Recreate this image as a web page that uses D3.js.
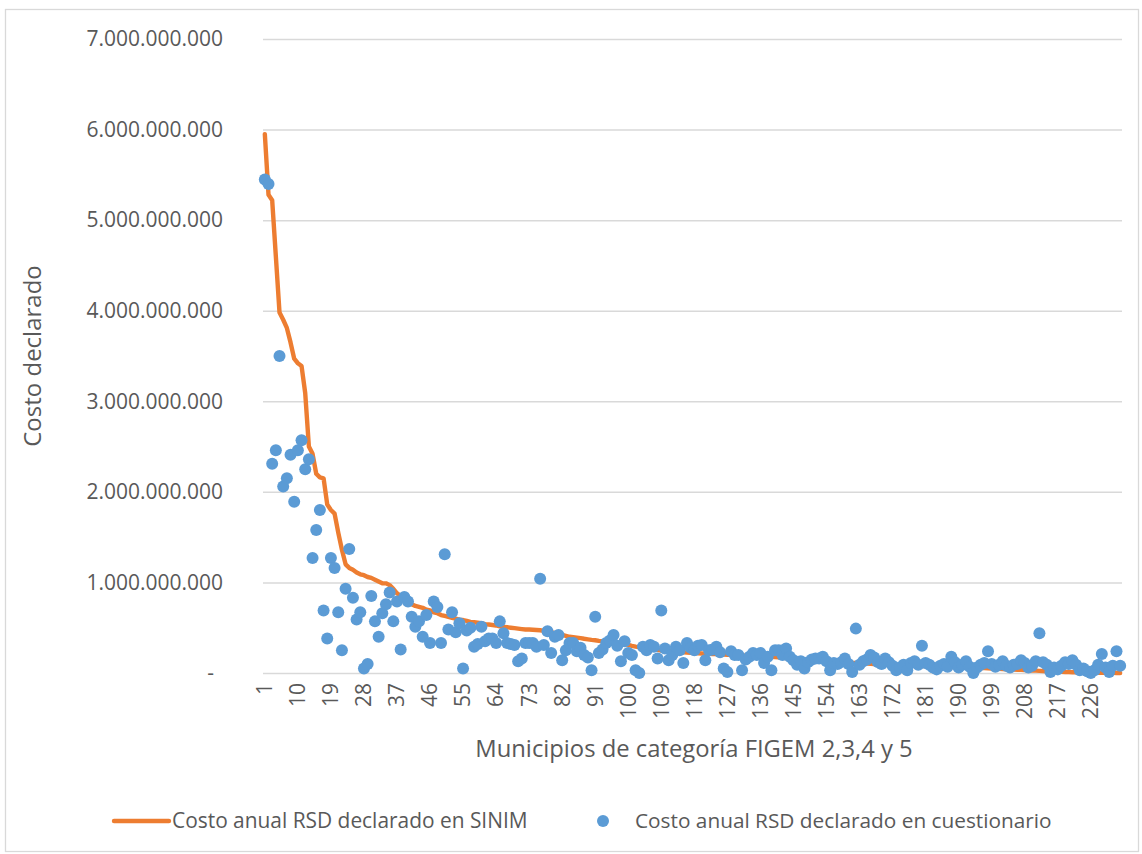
<!DOCTYPE html>
<html>
<head>
<meta charset="utf-8">
<script src="https://cdn.jsdelivr.net/npm/d3@7"></script>
<style>
  body { margin: 0; background: #fff; }
  svg text { font-family: "Open Sans", "Liberation Sans", sans-serif; fill: #595959; }
</style>
</head>
<body>
<script>
// SINIM annual cost per municipality (millions of pesos), sorted
var sinim = [
  5950, 5280, 5220, 4600, 3980, 3900, 3810, 3650, 3470, 3420,
  3390, 3090, 2500, 2420, 2200, 2160, 2150, 1860, 1800, 1760,
  1550, 1360, 1200, 1160, 1140, 1110, 1090, 1080, 1060, 1050,
  1030, 1010, 990, 990, 970, 930, 880, 850, 810, 780,
  760, 740, 730, 720, 700, 690, 670, 660, 640, 630,
  620, 610, 600, 590, 585, 575, 565, 560, 555, 550,
  540, 535, 530, 525, 515, 510, 505, 500, 495, 490,
  485, 480, 480, 478, 475, 472, 465, 458, 450, 440,
  430, 420, 410, 400, 395, 390, 385, 378, 372, 366,
  362, 355, 350, 345, 340, 335, 330, 325, 318, 310,
  300, 292, 285, 278, 272, 268, 262, 255, 248, 244,
  240, 236, 233, 230, 228, 225, 222, 220, 218, 216,
  214, 212, 210, 208, 206, 204, 202, 200, 198, 196,
  194, 192, 190, 188, 186, 184, 182, 180, 178, 175,
  172, 168, 165, 162, 158, 155, 152, 148, 145, 142,
  140, 137, 134, 130, 127, 124, 121, 118, 116, 114,
  112, 110, 108, 106, 104, 102, 100, 98, 96, 94,
  92, 90, 88, 86, 85, 84, 82, 80, 79, 78,
  77, 76, 75, 74, 73, 72, 71, 70, 69, 68,
  66, 64, 62, 60, 58, 56, 54, 52, 50, 48,
  46, 44, 42, 40, 38, 36, 34, 32, 30, 28,
  26, 24, 22, 20, 18, 16, 14, 12, 11, 10,
  9, 8, 7, 6, 5, 4, 3, 3, 2, 2,
  1, 1, 0, 0
];

// questionnaire annual cost, same municipalities (millions of pesos)
var cuestionario = [
  5450, 5400, 2310, 2460, 3500, 2060, 2150, 2410, 1890, 2460,
  2570, 2250, 2360, 1270, 1580, 1800, 690, 380, 1270, 1160,
  670, 250, 930, 1370, 830, 590, 670, 50, 100, 850,
  570, 400, 660, 760, 890, 570, 790, 260, 840, 790,
  620, 510, 570, 400, 640, 330, 790, 730, 330, 1310,
  480, 670, 450, 550, 50, 470, 500, 290, 320, 510,
  350, 380, 380, 330, 570, 440, 330, 320, 310, 130,
  160, 330, 330, 330, 290, 1040, 310, 460, 220, 400,
  420, 140, 250, 330, 330, 240, 280, 200, 170, 30,
  620, 220, 260, 330, 360, 420, 300, 130, 350, 220,
  200, 30, 0, 290, 250, 310, 290, 160, 690, 270,
  140, 200, 290, 250, 110, 330, 280, 250, 300, 310,
  140, 250, 260, 290, 230, 50, 10, 240, 200, 200,
  30, 150, 180, 220, 200, 220, 110, 180, 30, 250,
  250, 200, 270, 180, 140, 90, 130, 50, 120, 150,
  160, 160, 180, 130, 30, 110, 100, 120, 160, 100,
  10, 490, 90, 130, 150, 200, 170, 120, 100, 160,
  120, 80, 30, 60, 90, 30, 110, 130, 90, 300,
  110, 90, 60, 40, 80, 100, 70, 180, 120, 60,
  90, 130, 70, 0, 60, 90, 110, 240, 100, 70,
  90, 130, 80, 60, 90, 100, 140, 110, 60, 80,
  130, 440, 120, 90, 10, 60, 40, 80, 120, 100,
  140, 90, 30, 50, 20, 0, 30, 90, 210, 60,
  10, 80, 240, 80
];

var categories = sinim.map(function(d, i) { return i + 1; });
var xTickLabels = [1, 10, 19, 28, 37, 46, 55, 64, 73, 82, 91, 100, 109, 118, 127,
                   136, 145, 154, 163, 172, 181, 190, 199, 208, 217, 226];
var yTicks = [0, 1e9, 2e9, 3e9, 4e9, 5e9, 6e9, 7e9];
var seriesNames = ["Costo anual RSD declarado en SINIM", "Costo anual RSD declarado en cuestionario"];

var W = 1142, H = 854;
var plot = {left: 263, right: 1122, top: 39, bottom: 673};

var svg = d3.select("body").append("svg")
  .attr("width", W)
  .attr("height", H);

// chart border
svg.append("rect")
  .attr("x", 5.5).attr("y", 9.5)
  .attr("width", W - 9).attr("height", H - 12)
  .attr("fill", "#fff")
  .attr("stroke", "#d9d9d9")
  .attr("stroke-width", 1.3);

var x = d3.scaleBand().domain(categories).range([plot.left, plot.right]);
var y = d3.scaleLinear().domain([0, 7e9]).range([plot.bottom, plot.top]);
var cx = function(d) { return x(d) + x.bandwidth() / 2; };

var loc = d3.formatLocale({decimal: ",", thousands: ".", grouping: [3], currency: ["$", ""]});
var fmt = loc.format(",d");

// y axis + gridlines
var yAxis = d3.axisLeft(y)
  .tickValues(yTicks)
  .tickSize(-(plot.right - plot.left))
  .tickPadding(40)
  .tickFormat(function(d) { return d === 0 ? "-" : fmt(d); });

var gy = svg.append("g")
  .attr("transform", "translate(" + plot.left + ",0)")
  .call(yAxis);
gy.select(".domain").remove();
gy.selectAll(".tick line").attr("stroke", "#d9d9d9").attr("stroke-width", 1.5);
gy.selectAll(".tick text")
  .style("font-size", "21px")
  .attr("fill", "#595959");
gy.selectAll(".tick").filter(function(d) { return d === 0; })
  .select("text").attr("x", -49);

// x axis
var xAxis = d3.axisBottom(x)
  .tickValues(xTickLabels)
  .tickSize(0)
  .tickPadding(0);
var gx = svg.append("g")
  .attr("transform", "translate(0," + plot.bottom + ")")
  .call(xAxis);
gx.select(".domain").remove();
gx.selectAll(".tick text")
  .style("font-size", "21px")
  .attr("fill", "#595959")
  .attr("text-anchor", "end")
  .attr("dy", "0.35em")
  .attr("y", 0)
  .attr("transform", "translate(0,10) rotate(-90)");

// SINIM line
var line = d3.line()
  .x(function(d, i) { return cx(categories[i]); })
  .y(function(d) { return y(d * 1e6); });

svg.append("path")
  .datum(sinim)
  .attr("fill", "none")
  .attr("stroke", "#ED7D31")
  .attr("stroke-width", 4.4)
  .attr("stroke-linejoin", "round")
  .attr("stroke-linecap", "round")
  .attr("d", line);

// questionnaire dots
svg.selectAll(".dot")
  .data(cuestionario)
  .enter().append("circle")
  .attr("class", "dot")
  .attr("cx", function(d, i) { return cx(categories[i]); })
  .attr("cy", function(d) { return y(d * 1e6); })
  .attr("r", 6)
  .attr("fill", "#5B9BD5");

// axis titles
svg.append("text")
  .attr("transform", "translate(33," + ((plot.top + plot.bottom) / 2) + ") rotate(-90)")
  .attr("text-anchor", "middle")
  .attr("dy", "0.35em")
  .style("font-size", "24px")
  .text("Costo declarado");

svg.append("text")
  .attr("x", 694)
  .attr("y", 749)
  .attr("text-anchor", "middle")
  .attr("dy", "0.35em")
  .style("font-size", "23.8px")
  .text("Municipios de categoría FIGEM 2,3,4 y 5");

// legend
var leg = svg.append("g").attr("transform", "translate(0,821)");
leg.append("line")
  .attr("x1", 114).attr("x2", 169)
  .attr("stroke", "#ED7D31").attr("stroke-width", 4.4)
  .attr("stroke-linecap", "round");
leg.append("text")
  .attr("x", 172).attr("dy", "0.35em")
  .style("font-size", "20.9px")
  .text(seriesNames[0]);
leg.append("circle")
  .attr("cx", 603).attr("r", 6)
  .attr("fill", "#5B9BD5");
leg.append("text")
  .attr("x", 635).attr("dy", "0.35em")
  .style("font-size", "20.8px")
  .text(seriesNames[1]);
</script>
</body>
</html>
